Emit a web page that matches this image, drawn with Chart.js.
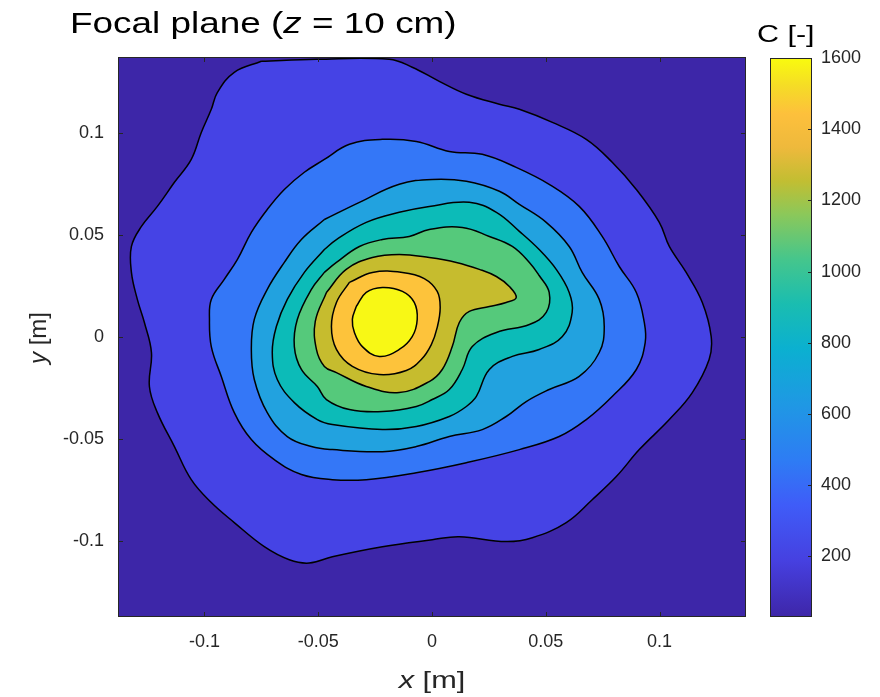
<!DOCTYPE html>
<html><head><meta charset="utf-8">
<script src="https://cdn.jsdelivr.net/npm/chart.js@4.4.1/dist/chart.umd.min.js"></script>
<style>
html,body{margin:0;padding:0;background:#fff;}
#wrap{position:relative;width:880px;height:697px;overflow:hidden;font-family:"Liberation Sans",Arial,Helvetica,sans-serif;}
#main{position:absolute;left:0;top:0;}
#cb{position:absolute;left:750px;top:0;}
.t{position:absolute;white-space:nowrap;line-height:1;}
</style></head><body>
<div id="wrap">
<canvas id="main" width="760" height="697"></canvas>
<canvas id="cb" width="130" height="697"></canvas>
<div class="t" id="title" style="left:70px;top:8px;font-size:30px;color:#000;transform:scaleX(1.23);transform-origin:0 0;">Focal plane (<i>z</i> = 10 cm)</div>
<div class="t" id="cbt" style="left:757px;top:22px;font-size:24px;color:#000;transform:scaleX(1.27);transform-origin:0 0;">C [-]</div>
<div class="t" id="xt" style="left:432px;top:680px;transform:translate(-50%,-50%) scaleX(1.28);font-size:24px;color:#262626;"><i>x</i> [m]</div>
<div class="t" id="yt" style="left:38px;top:338px;transform:translate(-50%,-50%) rotate(-90deg);font-size:24px;color:#262626;"><i>y</i> [m]</div>
</div>
<script>
// ---- data (x [m], y [m]) : contour boundaries, outermost to innermost ----
const contour1 = [[-0.0750,0.1349],[-0.0508,0.1359],[-0.0188,0.1359],[-0.0087,0.1320],[0.0032,0.1251],[0.0151,0.1188],[0.0296,0.1139],[0.0384,0.1114],[0.0529,0.1050],[0.0678,0.0967],[0.0792,0.0855],[0.0898,0.0722],[0.0999,0.0561],[0.1043,0.0443],[0.1117,0.0316],[0.1188,0.0169],[0.1227,0.0002],[0.1218,-0.0110],[0.1144,-0.0272],[0.1043,-0.0404],[0.0911,-0.0551],[0.0810,-0.0683],[0.0704,-0.0796],[0.0590,-0.0908],[0.0441,-0.0982],[0.0326,-0.1001],[0.0120,-0.0977],[0.0001,-0.0992],[-0.0218,-0.1026],[-0.0438,-0.1075],[-0.0540,-0.1106],[-0.0627,-0.1090],[-0.0737,-0.1026],[-0.0869,-0.0908],[-0.0970,-0.0810],[-0.1058,-0.0698],[-0.1132,-0.0536],[-0.1207,-0.0370],[-0.1242,-0.0242],[-0.1233,-0.0076],[-0.1264,0.0071],[-0.1295,0.0184],[-0.1321,0.0316],[-0.1321,0.0443],[-0.1277,0.0541],[-0.1207,0.0639],[-0.1132,0.0757],[-0.1058,0.0869],[-0.1014,0.1001],[-0.0970,0.1114],[-0.0943,0.1197],[-0.0869,0.1295]];
const contour2 = [[-0.0473,0.0869],[-0.0363,0.0943],[-0.0218,0.0967],[-0.0069,0.0957],[0.0076,0.0908],[0.0221,0.0894],[0.0370,0.0830],[0.0515,0.0747],[0.0647,0.0639],[0.0748,0.0492],[0.0823,0.0345],[0.0898,0.0218],[0.0933,0.0071],[0.0937,-0.0027],[0.0898,-0.0159],[0.0792,-0.0291],[0.0678,-0.0404],[0.0559,-0.0487],[0.0384,-0.0551],[0.0151,-0.0615],[-0.0069,-0.0664],[-0.0289,-0.0698],[-0.0438,-0.0698],[-0.0574,-0.0673],[-0.0693,-0.0600],[-0.0794,-0.0502],[-0.0869,-0.0370],[-0.0926,-0.0193],[-0.0970,-0.0047],[-0.0978,0.0086],[-0.0970,0.0184],[-0.0913,0.0282],[-0.0855,0.0380],[-0.0794,0.0512],[-0.0724,0.0624],[-0.0649,0.0722],[-0.0561,0.0806]];
const contour3 = [[-0.0473,0.0575],[-0.0319,0.0659],[-0.0144,0.0747],[0.0001,0.0771],[0.0151,0.0762],[0.0296,0.0713],[0.0384,0.0649],[0.0502,0.0561],[0.0603,0.0443],[0.0660,0.0316],[0.0735,0.0184],[0.0757,0.0051],[0.0735,-0.0076],[0.0647,-0.0193],[0.0515,-0.0257],[0.0414,-0.0316],[0.0326,-0.0389],[0.0221,-0.0453],[0.0076,-0.0487],[-0.0069,-0.0536],[-0.0218,-0.0561],[-0.0438,-0.0551],[-0.0530,-0.0536],[-0.0636,-0.0487],[-0.0724,-0.0370],[-0.0781,-0.0208],[-0.0794,-0.0061],[-0.0781,0.0086],[-0.0724,0.0233],[-0.0649,0.0365],[-0.0574,0.0477]];
const contour4 = [[-0.0473,0.0428],[-0.0420,0.0477],[-0.0289,0.0561],[-0.0144,0.0610],[-0.0012,0.0639],[0.0164,0.0659],[0.0283,0.0610],[0.0384,0.0517],[0.0471,0.0428],[0.0546,0.0331],[0.0603,0.0218],[0.0616,0.0120],[0.0573,0.0002],[0.0471,-0.0061],[0.0353,-0.0095],[0.0252,-0.0159],[0.0195,-0.0291],[0.0151,-0.0340],[0.0076,-0.0389],[-0.0069,-0.0438],[-0.0218,-0.0453],[-0.0438,-0.0428],[-0.0504,-0.0404],[-0.0605,-0.0321],[-0.0680,-0.0208],[-0.0702,-0.0076],[-0.0684,0.0051],[-0.0636,0.0184],[-0.0561,0.0316]];
const contour5 = [[-0.0473,0.0316],[-0.0420,0.0365],[-0.0319,0.0443],[-0.0218,0.0477],[-0.0100,0.0492],[-0.0012,0.0526],[0.0133,0.0536],[0.0252,0.0492],[0.0353,0.0443],[0.0428,0.0365],[0.0471,0.0301],[0.0515,0.0218],[0.0502,0.0120],[0.0428,0.0061],[0.0283,0.0022],[0.0177,-0.0047],[0.0133,-0.0159],[0.0076,-0.0257],[0.0001,-0.0306],[-0.0069,-0.0340],[-0.0218,-0.0365],[-0.0363,-0.0355],[-0.0464,-0.0306],[-0.0504,-0.0242],[-0.0574,-0.0159],[-0.0605,-0.0047],[-0.0592,0.0086],[-0.0530,0.0233]];
const contour6 = [[-0.0464,0.0218],[-0.0377,0.0331],[-0.0262,0.0389],[-0.0144,0.0404],[-0.0012,0.0389],[0.0107,0.0365],[0.0208,0.0331],[0.0283,0.0296],[0.0340,0.0247],[0.0370,0.0193],[0.0326,0.0169],[0.0252,0.0149],[0.0164,0.0125],[0.0120,0.0071],[0.0089,-0.0047],[0.0045,-0.0159],[-0.0012,-0.0218],[-0.0144,-0.0272],[-0.0289,-0.0242],[-0.0420,-0.0174],[-0.0473,-0.0144],[-0.0508,-0.0061],[-0.0513,0.0076]];
const contour7 = [[-0.0363,0.0267],[-0.0262,0.0316],[-0.0130,0.0316],[-0.0034,0.0286],[0.0023,0.0223],[0.0036,0.0144],[0.0023,0.0047],[-0.0003,-0.0037],[-0.0047,-0.0110],[-0.0113,-0.0164],[-0.0232,-0.0184],[-0.0350,-0.0144],[-0.0420,-0.0061],[-0.0442,0.0051],[-0.0420,0.0169]];
const contour8 = [[-0.0333,0.0149],[-0.0289,0.0218],[-0.0218,0.0242],[-0.0130,0.0223],[-0.0078,0.0169],[-0.0065,0.0086],[-0.0087,0.0002],[-0.0144,-0.0061],[-0.0232,-0.0095],[-0.0306,-0.0047],[-0.0341,0.0022],[-0.0350,0.0086]];
const contours = [contour1, contour2, contour3, contour4, contour5, contour6, contour7, contour8];
const xRange = [-0.138, 0.138];
const yRange = [-0.137, 0.137];
const xTicks = [-0.1, -0.05, 0, 0.05, 0.1];
const yTicks = [-0.1, -0.05, 0, 0.05, 0.1];
const cbRange = [30, 1600];
const cbTicks = [200, 400, 600, 800, 1000, 1200, 1400, 1600];

// ---- styles ----
const bgColor = '#3D26A8';
const levelColors = ['#4543E5', '#3477F7', '#22A2DF', '#0CBBB8', '#55C97B', '#C6BC2E', '#FDC33B', '#F8F815'];
const parulaStops = [[0,'#3E26A8'],[0.1,'#4640E0'],[0.2,'#3F5CF8'],[0.28,'#2E7CF4'],[0.38,'#1F98E4'],[0.48,'#0BB0D0'],[0.56,'#1ABDB0'],[0.64,'#45C68C'],[0.72,'#8BC85A'],[0.78,'#C2BE32'],[0.84,'#EEB93C'],[0.90,'#FDC03C'],[0.95,'#F5DC26'],[1,'#F9FB0E']];
const tickFont = {family: '"Liberation Sans", Arial, sans-serif', size: 18};
const axisColor = '#262626';

const frame = {
  id: 'frame',
  beforeDatasetsDraw(chart) {
    const a = chart.chartArea, c = chart.ctx;
    c.save(); c.fillStyle = bgColor; c.fillRect(a.left, a.top, a.right - a.left, a.bottom - a.top); c.restore();
  },
  afterDatasetsDraw(chart) {
    const a = chart.chartArea, c = chart.ctx;
    c.save();
    c.strokeStyle = axisColor; c.lineWidth = 1;
    c.strokeRect(Math.round(a.left) + 0.5, Math.round(a.top) + 0.5, Math.round(a.right - a.left) - 1, Math.round(a.bottom - a.top) - 1);
    const L = 5;
    c.beginPath();
    chart.scales.x.ticks.forEach(t => {
      const px = Math.round(chart.scales.x.getPixelForValue(t.value)) + 0.5;
      c.moveTo(px, a.bottom); c.lineTo(px, a.bottom - L);
      c.moveTo(px, a.top); c.lineTo(px, a.top + L);
    });
    chart.scales.y.ticks.forEach(t => {
      const py = Math.round(chart.scales.y.getPixelForValue(t.value)) + 0.5;
      c.moveTo(a.left, py); c.lineTo(a.left + L, py);
      c.moveTo(a.right, py); c.lineTo(a.right - L, py);
    });
    c.stroke();
    c.restore();
  }
};

const datasets = contours.map((pts, i) => ({
  data: pts.concat([pts[0]]).map(p => ({x: p[0], y: p[1]})),
  showLine: true,
  fill: 'shape',
  backgroundColor: levelColors[i],
  borderColor: '#000',
  borderWidth: 1.5,
  pointRadius: 0,
  tension: 0.4,
  order: contours.length - i
}));

new Chart(document.getElementById('main'), {
  type: 'scatter',
  data: {datasets},
  plugins: [frame],
  options: {
    responsive: false, animation: false, devicePixelRatio: 1,
    layout: {padding: {left: 0, right: 14, top: 57, bottom: 0}},
    plugins: {legend: {display: false}, tooltip: {enabled: false}, title: {display: false}},
    scales: {
      x: {
        type: 'linear', min: xRange[0], max: xRange[1],
        grid: {display: false, drawTicks: false}, border: {display: false},
        afterBuildTicks: s => { s.ticks = xTicks.map(v => ({value: v})); },
        afterFit: s => { s.height = 80; },
        ticks: {font: tickFont, color: axisColor, padding: 14, maxRotation: 0, autoSkip: false, callback: v => String(v)}
      },
      y: {
        type: 'linear', min: yRange[0], max: yRange[1],
        grid: {display: false, drawTicks: false}, border: {display: false},
        afterBuildTicks: s => { s.ticks = yTicks.map(v => ({value: v})); },
        afterFit: s => { s.width = 118; },
        ticks: {font: tickFont, color: axisColor, padding: 14, autoSkip: false, callback: v => String(v)}
      }
    }
  }
});

// ---- colorbar ----
const cbFrame = {
  id: 'cbFrame',
  afterDatasetsDraw(chart) {
    const a = chart.chartArea, c = chart.ctx;
    c.save();
    c.strokeStyle = axisColor; c.lineWidth = 1;
    c.strokeRect(Math.round(a.left) + 0.5, Math.round(a.top) + 0.5, Math.round(a.right - a.left) - 1, Math.round(a.bottom - a.top) - 1);
    c.beginPath();
    chart.scales.y.ticks.forEach(t => {
      const py = Math.round(chart.scales.y.getPixelForValue(t.value)) + 0.5;
      c.moveTo(a.right, py); c.lineTo(a.right - 4, py);
    });
    c.stroke();
    c.restore();
  }
};

new Chart(document.getElementById('cb'), {
  type: 'bar',
  data: {
    labels: ['C'],
    datasets: [{
      data: [cbRange],
      barPercentage: 1, categoryPercentage: 1, borderWidth: 0,
      backgroundColor: ctx => {
        const ch = ctx.chart;
        if (!ch.chartArea) return parulaStops[0][1];
        const ys = ch.scales.y;
        const g = ch.ctx.createLinearGradient(0, ys.getPixelForValue(cbRange[0]), 0, ys.getPixelForValue(cbRange[1]));
        parulaStops.forEach(s => g.addColorStop(s[0], s[1]));
        return g;
      }
    }]
  },
  plugins: [cbFrame],
  options: {
    responsive: false, animation: false, devicePixelRatio: 1,
    layout: {padding: {left: 20, right: 0, top: 58, bottom: 80}},
    plugins: {legend: {display: false}, tooltip: {enabled: false}},
    scales: {
      x: {display: false},
      y: {
        position: 'right', min: cbRange[0], max: cbRange[1],
        grid: {display: false, drawTicks: false}, border: {display: false},
        afterBuildTicks: s => { s.ticks = cbTicks.map(v => ({value: v})); },
        afterFit: s => { s.width = 68; },
        ticks: {font: tickFont, color: axisColor, padding: 9, autoSkip: false, callback: v => String(v)}
      }
    }
  }
});
</script>
</body></html>
